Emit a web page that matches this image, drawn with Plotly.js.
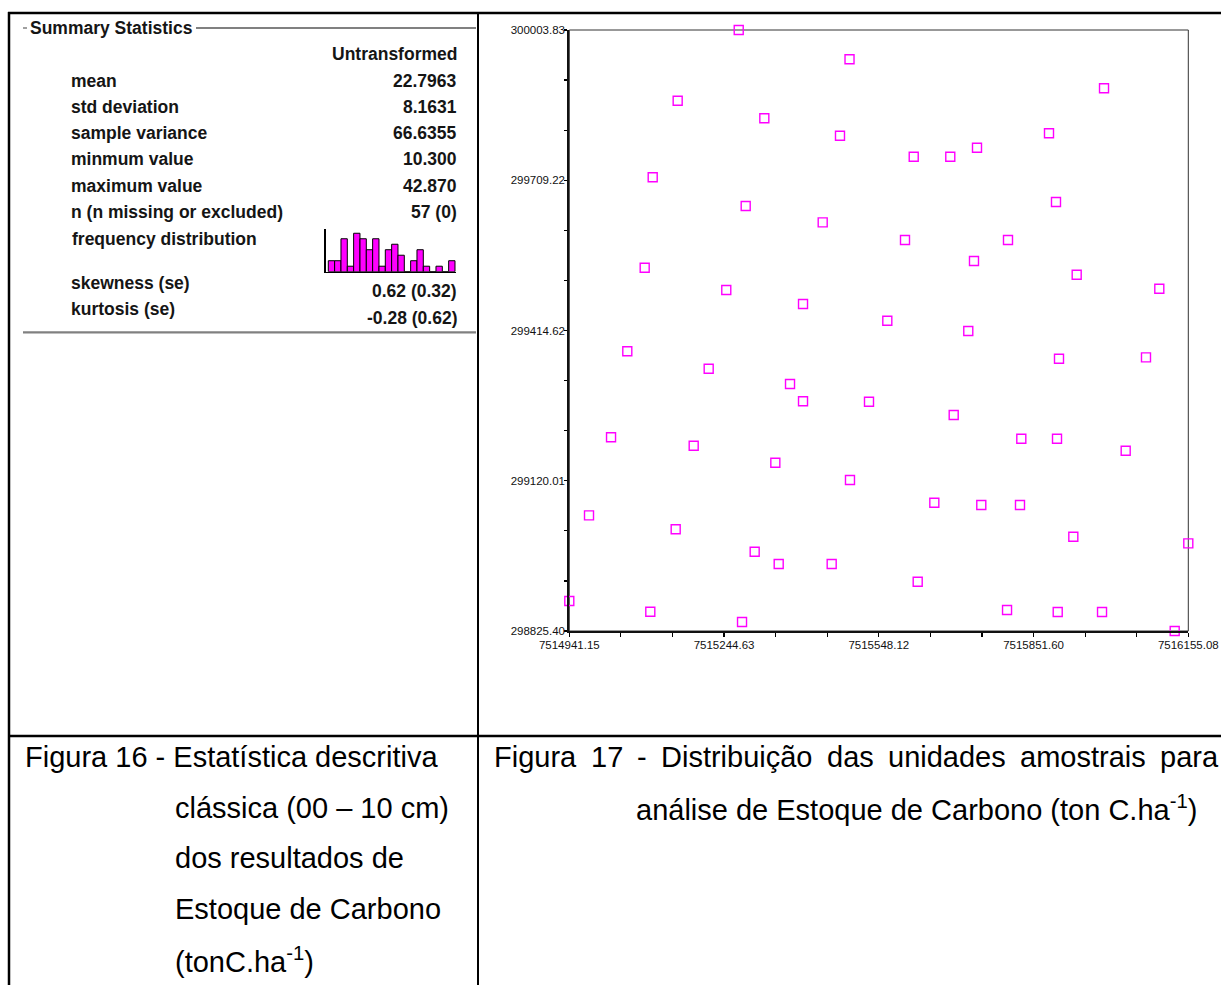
<!DOCTYPE html>
<html>
<head>
<meta charset="utf-8">
<script src="https://cdn.plot.ly/plotly-3.0.1.min.js"></script>
<style>
  html, body { margin: 0; padding: 0; background: #ffffff; }
  #chart { width: 1221px; height: 985px; }
</style>
</head>
<body>
<div id="chart"></div>
<script>
// ---------------- DATA ----------------
// Sample unit coordinates (Figura 17)
const eastings = [7515273.4, 7515490.7, 7515153.7, 7515989.8, 7515323.6, 7515472.0, 7515881.9, 7515616.6, 7515688.3, 7515740.7,
  7515104.7, 7515287.1, 7515895.6, 7515438.1, 7515599.5, 7515801.5, 7515089.0, 7515734.8, 7515936.2, 7515249.0,
  7516098.2, 7515399.5, 7515564.8, 7515723.6, 7515054.9, 7515901.5, 7516072.1, 7515214.5, 7515374.0, 7515399.5,
  7515528.9, 7515695.0, 7515023.0, 7515827.6, 7515897.6, 7515185.1, 7516032.3, 7515345.2, 7515491.6, 7515657.0,
  7515749.1, 7515825.0, 7514979.8, 7515149.8, 7515929.6, 7516155.08, 7515304.7, 7515351.8, 7515455.7, 7515624.4,
  7514941.15, 7515100.0, 7515799.6, 7515899.0, 7515985.9, 7515279.9, 7516128.4];
const northings = [300003.83, 299946.4, 299865.2, 299889.5, 299830.7, 299796.5, 299801.3, 299755.4, 299755.4, 299773.0,
  299715.0, 299658.7, 299666.5, 299626.7, 299592.0, 299592.0, 299537.7, 299550.9, 299524.0, 299494.0,
  299496.5, 299466.5, 299433.8, 299413.6, 299373.8, 299359.3, 299362.0, 299339.7, 299309.7, 299275.8,
  299275.0, 299248.9, 299205.2, 299202.4, 299202.4, 299188.7, 299178.9, 299155.4, 299121.4, 299076.9,
  299072.4, 299072.4, 299052.2, 299024.8, 299010.3, 298997.3, 298980.9, 298956.7, 298956.7, 298922.0,
  298884.2, 298863.2, 298866.5, 298862.6, 298862.6, 298843.0, 298825.40];

// Axis tick labels
const xTickLabels = ['7514941.15', '7515244.63', '7515548.12', '7515851.60', '7516155.08'];
const yTickLabels = ['298825.40', '299120.01', '299414.62', '299709.22', '300003.83'];

// Summary statistics (Figura 16)
const statLabels = ['mean', 'std deviation', 'sample variance', 'minmum value', 'maximum value',
  'n (n missing or excluded)', 'frequency distribution', 'skewness (se)', 'kurtosis (se)'];
const statValues = ['22.7963', '8.1631', '66.6355', '10.300', '42.870', '57 (0)', '', '0.62 (0.32)', '-0.28 (0.62)'];
const statMin = 10.300, statMax = 42.870;
// frequency distribution bin counts
const histCounts = [2, 2, 6, 1, 7, 6, 4, 6, 1, 4, 5, 3, 0, 2, 4, 1, 0, 1, 0, 2];

// ---------------- LAYOUT HELPERS ----------------
const W = 1221, H = 985;
const X = px => px / W;
const Y = py => 1 - py / H;

// labelled ticks plus unlabelled minor ticks (two between each labelled pair)
function majorTicks(labels) {
  return { vals: labels.map(parseFloat), text: labels.slice() };
}
function minorTicks(labels) {
  const vals = [];
  for (let i = 0; i < labels.length - 1; i++) {
    const v = parseFloat(labels[i]), n = parseFloat(labels[i + 1]);
    vals.push(v + (n - v) / 3, v + 2 * (n - v) / 3);
  }
  return vals;
}
const xt = majorTicks(xTickLabels);
const yt = majorTicks(yTickLabels);

// histogram bins
const binW = (statMax - statMin) / histCounts.length;
const binCenters = histCounts.map((c, i) => statMin + (i + 0.5) * binW);

const traces = [
  {
    type: 'scatter', mode: 'markers',
    x: eastings, y: northings,
    xaxis: 'x', yaxis: 'y',
    cliponaxis: false,
    marker: { symbol: 'square-open', size: 9, color: '#ff00ff', line: { width: 1.4, color: '#ff00ff' } },
    hoverinfo: 'x+y', showlegend: false
  },
  {
    type: 'bar',
    x: binCenters, y: histCounts,
    xaxis: 'x2', yaxis: 'y2',
    width: binW,
    marker: { color: '#ff00ff', line: { color: '#000000', width: 1 } },
    showlegend: false, hoverinfo: 'y'
  }
];

const font = 'Liberation Sans, Arial, sans-serif';
const statFs = 17.5, capFs = 29;
const annotations = [];
function addText(text, px, py, anchor, size, color, weight) {
  annotations.push({
    text: text, xref: 'paper', yref: 'paper', x: X(px), y: Y(py),
    xanchor: anchor, yanchor: 'middle', showarrow: false,
    borderpad: 0, borderwidth: 0,
    font: { family: font, size: size, color: color || '#111111', weight: weight || 'normal' }
  });
}

// Summary statistics panel
addText('Summary Statistics', 30, 27.6, 'left', statFs, '#151515', 'bold');
addText('Untransformed', 457, 54.3, 'right', statFs, '#151515', 'bold');
const labelY = [80.9, 106.9, 132.9, 159.3, 185.9, 211.9, 238.6, 282.6, 308.6];
const valueY = [80.9, 106.9, 132.9, 159.3, 185.9, 211.9, 238.6, 291.3, 317.6];
statLabels.forEach((t, i) => addText(t, i === 6 ? 72 : 70.7, labelY[i], 'left', statFs, '#151515', 'bold'));
statValues.forEach((t, i) => { if (t) addText(t, 457, valueY[i], 'right', statFs, '#151515', 'bold'); });

// Captions
addText('Figura 16 - Estatística descritiva', 25, 757, 'left', capFs, '#000');
addText('clássica (00 – 10 cm)', 175, 808, 'left', capFs, '#000');
addText('dos resultados de', 175, 858, 'left', capFs, '#000');
addText('Estoque de Carbono', 175, 909, 'left', capFs, '#000');
addText('(tonC.ha<sup>-1</sup>)', 175, 960, 'left', capFs, '#000');
const cap17Words = ['Figura', '17', '-', 'Distribuição', 'das', 'unidades', 'amostrais', 'para'];
const cap17X = [494, 590.5, 637.1, 661.1, 826.9, 888.0, 1020.0, 1160.0];
cap17Words.forEach((w, i) => addText(w, cap17X[i], 757, 'left', capFs, '#000'));
addText('análise de Estoque de Carbono (ton C.ha<sup>-1</sup>)', 636, 808, 'left', capFs, '#000');

// Table lines & group box
function line(x0, y0, x1, y1, w, c) {
  return { type: 'line', xref: 'paper', yref: 'paper', x0: X(x0), y0: Y(y0), x1: X(x1), y1: Y(y1),
    line: { color: c, width: w }, layer: 'above' };
}
const shapes = [
  line(8, 13, 1221, 13, 2.5, '#000'),
  line(9, 12, 9, 985, 2.5, '#000'),
  line(478, 13, 478, 985, 2, '#000'),
  line(9, 736, 1221, 736, 2.5, '#000'),
  line(23, 28, 27, 28, 1.5, '#808080'),
  line(196, 28, 476, 28, 1.8, '#808080'),
  line(23, 332.3, 476, 332.3, 2.2, '#808080'),
  // thin frame of the map
  { type: 'rect', xref: 'paper', yref: 'paper', x0: X(569.3), x1: X(1188.3), y0: Y(631), y1: Y(30),
    line: { color: '#333333', width: 1 }, layer: 'below' }
];

const layout = {
  width: W, height: H,
  margin: { l: 0, r: 0, t: 0, b: 0, pad: 0 },
  paper_bgcolor: '#ffffff', plot_bgcolor: 'rgba(0,0,0,0)',
  font: { family: font, color: '#111111' },
  showlegend: false,
  bargap: 0,
  xaxis: {
    domain: [X(569.3), X(1188.3)], anchor: 'y',
    range: [parseFloat(xTickLabels[0]), parseFloat(xTickLabels[xTickLabels.length - 1])],
    tickmode: 'array', tickvals: xt.vals, ticktext: xt.text,
    ticks: 'outside', ticklen: 4, tickwidth: 1.2, tickcolor: '#000',
    minor: { tickmode: 'array', tickvals: minorTicks(xTickLabels), ticks: 'outside', ticklen: 4, tickwidth: 1.2, tickcolor: '#000', showgrid: false },
    ticklabelstandoff: -2,
    showline: true, linecolor: '#111', linewidth: 2,
    showgrid: false, zeroline: false,
    tickfont: { family: font, size: 11.5, color: '#111' }
  },
  yaxis: {
    domain: [Y(631), Y(30)], anchor: 'x',
    range: [parseFloat(yTickLabels[0]), parseFloat(yTickLabels[yTickLabels.length - 1])],
    tickmode: 'array', tickvals: yt.vals, ticktext: yt.text,
    ticks: 'outside', ticklen: 3, tickwidth: 1.2, tickcolor: '#000',
    minor: { tickmode: 'array', tickvals: minorTicks(yTickLabels), ticks: 'outside', ticklen: 3, tickwidth: 1.2, tickcolor: '#000', showgrid: false },
    ticklabelstandoff: -3,
    showline: true, linecolor: '#111', linewidth: 2,
    showgrid: false, zeroline: false,
    tickfont: { family: font, size: 11.5, color: '#111' }
  },
  xaxis2: {
    domain: [X(325.7), X(456)], anchor: 'y2',
    range: [statMin - 0.41 * binW, statMax + 0.16 * binW],
    showline: true, linecolor: '#000', linewidth: 1.5,
    showticklabels: false, ticks: '', showgrid: false, zeroline: false, fixedrange: true
  },
  yaxis2: {
    domain: [Y(271.7), Y(229.3)], anchor: 'x2',
    range: [0, 7.72],
    showline: true, linecolor: '#000', linewidth: 1.5,
    showticklabels: false, ticks: '', showgrid: false, zeroline: false, fixedrange: true
  },
  shapes: shapes,
  annotations: annotations
};

Plotly.newPlot('chart', traces, layout, { displayModeBar: false, staticPlot: true });
</script>
</body>
</html>
